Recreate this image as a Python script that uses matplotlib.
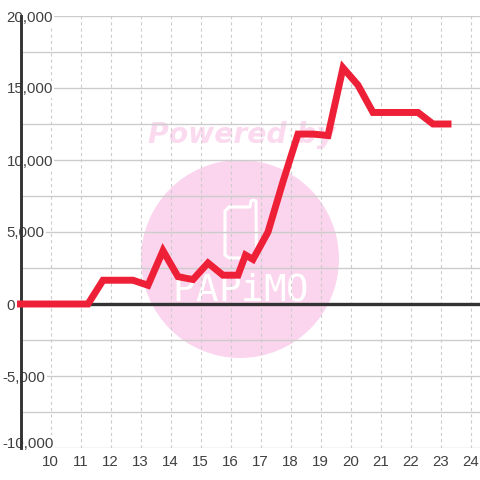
import matplotlib
matplotlib.use("Agg")
import matplotlib.pyplot as plt
from matplotlib.patches import Ellipse, Polygon
from matplotlib.ticker import FuncFormatter
from matplotlib.transforms import ScaledTranslation

hours = [9, 11.25, 11.75, 12.25, 12.75, 13.25, 13.75, 14.25, 14.75, 15.25, 15.75,
         16.25, 16.5, 16.75, 17.25, 17.75, 18.25, 18.75, 19.25, 19.75, 20.25,
         20.75, 21.25, 21.75, 22.25, 22.75, 23.25]
values = [0, 0, 1650, 1650, 1650, 1300, 3700, 1900, 1700, 2850, 2000,
          2000, 3400, 3100, 5000, 8500, 11800, 11800, 11700, 16400, 15200,
          13300, 13300, 13300, 13300, 12500, 12500]
x_ticks = list(range(10, 25))
y_major = list(range(-10000, 20001, 5000))
y_minor = list(range(-7500, 20000, 5000))
logo_letters = list('PAPiMO')

W = 480
plt.rcParams['font.family'] = ['Liberation Sans', 'DejaVu Sans']
fig = plt.figure(figsize=(4.8, 4.8), dpi=100, facecolor='white')
ax = fig.add_axes([20.5/W, (W-448)/W, (W-20.5)/W, 432/W])
ax.patch.set_visible(False)
ax.set_xlim(9, 9 + (W-20.5)/30)
ax.set_ylim(-10000, 20000)

def px(x, y):
    return x/W, 1 - y/W

# watermark
fig.add_artist(Ellipse(px(240, 259), 198/W, 198/W, transform=fig.transFigure,
                       fc='#fbd5ed', ec='none', zorder=-2))
phone = [(229, 207), (250, 207), (251, 201), (253, 200), (256, 201), (256.5, 258),
         (229, 258), (225, 255), (225, 211)]
fig.add_artist(Polygon([px(*p) for p in phone], closed=True, transform=fig.transFigure,
                       fc='none', ec='white', lw=2.2, joinstyle='round', zorder=-1))
fig.text(*px(242, 135), 'Powered by', color='#fbd9ef', fontsize=20.3, fontweight='bold',
         style='italic', ha='center', va='center', family=['DejaVu Sans'], zorder=-1)
for i, ch in enumerate(logo_letters):
    fig.text(*px(184 + 22.6*i, 291), ch, color='white', fontsize=27, ha='center', va='center',
             family=['DejaVu Sans Mono'], zorder=-1)

for s in ('top', 'right', 'bottom'):
    ax.spines[s].set_visible(False)
ax.spines['left'].set_color('#333333')
ax.spines['left'].set_linewidth(2.1)
ax.spines['left'].set_zorder(2)

ax.set_xticks(x_ticks)
ax.set_yticks(y_major)
ax.set_yticks(y_minor, minor=True)
ax.yaxis.set_major_formatter(FuncFormatter(lambda v, _: f'{int(v):,}'))
ax.grid(True, axis='y', which='both', color='#cccccc', lw=1.0, zorder=1)
ax.grid(True, axis='x', which='major', color='#cccccc', lw=0.8, ls=(0, (2.8, 2.8)), zorder=1)
ax.set_axisbelow(True)
ax.tick_params(which='both', length=0)
ax.tick_params(axis='x', labelsize=10.8, labelcolor='#404040', pad=5.2)
ax.tick_params(axis='y', labelsize=10.8, labelcolor='#404040', pad=10)
fig.canvas.draw()
for tick, val in zip(ax.yaxis.get_major_ticks(), y_major):
    lab = tick.label1
    lab.set_ha('left')
    lab.set_zorder(5)
    lab.set_bbox(dict(fc='white', ec='none', pad=1.0))
    dx = -4 if val < 0 else 0
    dy = 6 if val == -10000 else 0
    if dx or dy:
        lab.set_transform(lab.get_transform() + ScaledTranslation(dx/100, dy/100, fig.dpi_scale_trans))

ax.axhline(0, color='#333333', lw=2.4, zorder=3)
ax.plot(hours, values, color='#ee2037', lw=5.0, solid_joinstyle='miter',
        solid_capstyle='projecting', zorder=4, clip_on=False)

fig.savefig('out.png', dpi=100)
